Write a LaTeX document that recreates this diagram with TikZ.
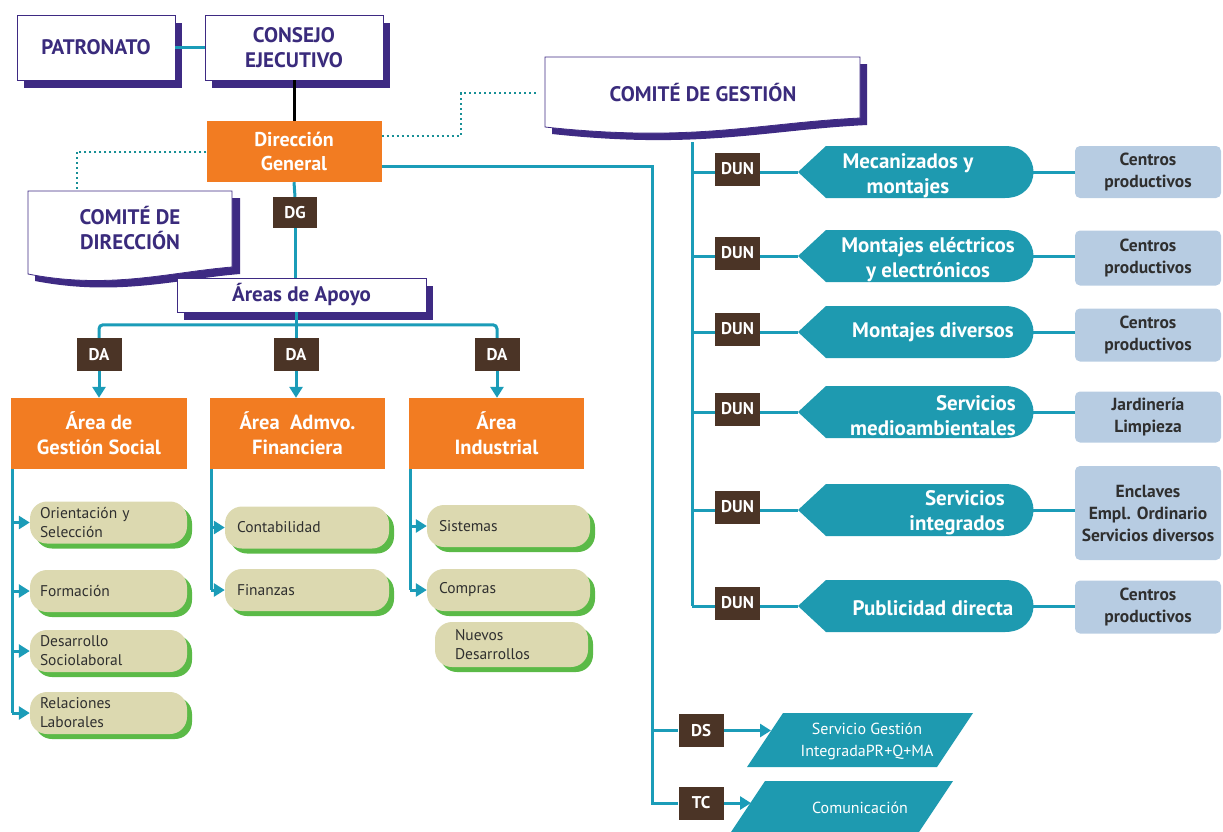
\documentclass[tikz,border=0pt]{standalone}
\usepackage{fontspec}
\setmainfont{PT Sans}
\usetikzlibrary{arrows.meta,shadows,positioning}

\definecolor{purpD}{HTML}{3E2A83}
\definecolor{purpT}{HTML}{3A2B7C}
\definecolor{tealL}{HTML}{1B9CB8}
\definecolor{tealS}{HTML}{1E9AB0}
\definecolor{dotT}{HTML}{178F96}
\definecolor{orangeA}{HTML}{F27C22}
\definecolor{brownL}{HTML}{4B3426}
\definecolor{blueB}{HTML}{B7CCE2}
\definecolor{pillT}{HTML}{DCD9B0}
\definecolor{pillG}{HTML}{5BBA47}
\definecolor{txtG}{HTML}{2F2F2F}

\tikzset{
  pbox/.style={draw=purpD, line width=0.8pt, fill=white, text=purpT, align=center,
    font=\fontsize{21}{25}\selectfont\bfseries,
    general shadow={fill=purpD, shadow xshift=7pt, shadow yshift=-8pt}},
  ctext/.style={text=purpT, align=center, font=\fontsize{21}{25}\selectfont\bfseries},
  obox/.style={fill=orangeA, text=white, align=center, font=\fontsize{20.5}{25}\selectfont\bfseries},
  tagbox/.style={fill=brownL, text=white, font=\fontsize{17}{19}\selectfont\bfseries,
    minimum width=45pt, minimum height=33pt, inner sep=0pt},
  pill/.style={fill=pillT, rounded corners=17pt, minimum height=42pt, text=txtG,
    font=\fontsize{15.5}{19}\selectfont, align=left, inner xsep=10pt, inner ysep=1pt, text width=#1,
    general shadow={fill=pillG, shadow xshift=5pt, shadow yshift=-5pt}},
  utext/.style={text=white, align=center, inner sep=0pt, font=\fontsize{21}{25}\selectfont\bfseries},
  ptext/.style={text=white, align=center, inner sep=0pt, font=\fontsize{16}{22}\selectfont},
  cbox/.style={fill=blueB, rounded corners=5pt, text=txtG, align=center, minimum width=146pt,
    inner xsep=2pt, font=\fontsize{17.5}{22}\selectfont\bfseries},
  link/.style={draw=tealL, line width=3pt},
  arr/.style={link, -{Triangle[width=13pt,length=11pt]}},
  dotline/.style={draw=dotT, line width=2pt, dash pattern=on 2pt off 3pt}
}

\begin{document}
\begin{tikzpicture}[x=1pt,y=-1pt]
\clip (0,0) rectangle (1223,831);

% top boxes
\node[pbox, minimum width=158pt, minimum height=65pt] (patr) at (96,47.5) {PATRONATO};
\node[pbox, minimum width=178pt, minimum height=65pt] (cons) at (294,47.5) {CONSEJO\\EJECUTIVO};
\node[obox, font=\fontsize{20}{24}\selectfont\bfseries, minimum width=175pt, minimum height=61pt] (dg) at (294,151.5) {Dirección\\General};
\draw[link] (patr) -- (cons);
\draw[line width=3pt] (cons) -- (dg);

% comites
\fill[purpD] (35,198) -- (240,198) -- (240,274) .. controls (178,279) and (118,297) .. (35,281) -- cycle;
\filldraw[fill=white, draw=purpD, line width=0.8pt] (28,191) -- (232,191) -- (232,267) .. controls (170,272) and (110,290) .. (28,274) -- cycle;
\node[ctext] (cdir) at (130,228) {COMITÉ DE\\DIRECCIÓN};
\fill[purpD] (552,64) -- (867,64) -- (867,125) .. controls (765,130) and (700,150) .. (552,134) -- cycle;
\filldraw[fill=white, draw=purpD, line width=0.8pt] (545,57) -- (860,57) -- (860,118) .. controls (758,123) and (693,143) .. (545,127) -- cycle;
\node[ctext] (cges) at (703,93) {COMITÉ DE GESTIÓN};
\coordinate (cdirT) at (77,191);
\coordinate (cgesL) at (537,93);
\draw[dotline] (dg.west) -| (cdirT);
\draw[dotline] ([yshift=16pt]dg.east) -| (461,93) -- (cgesL);

% areas de apoyo
\node[tagbox, minimum width=44pt, minimum height=31pt] (dglab) at (295,212.5) {DG};
\node[pbox, minimum width=249pt, minimum height=34pt] (apoyo) at (301.5,295) {Áreas de Apoyo};
\draw[link] (dg.south) -- (dglab.north);
\draw[link] (dglab.south) -- (dglab.south |- apoyo.north);

\node[tagbox] (da1) at (99,354.5) {DA};
\node[tagbox] (da2) at (296,354.5) {DA};
\node[tagbox] (da3) at (497,354.5) {DA};
\node[obox, minimum width=176pt, minimum height=71pt] (ag1) at (99,433.5) {Área de\\Gestión Social};
\node[obox, minimum width=175pt, minimum height=71pt] (ag2) at (297.5,433.5) {Área \ Admvo.\\Financiera};
\node[obox, minimum width=175pt, minimum height=71pt] (ag3) at (496.5,433.5) {Área\\Industrial};
\draw[link, rounded corners=4pt] (da1.north) -- ++(0,-13) -| (da3.north);
\draw[link] (apoyo.south -| da2.north) -- (da2.north);
\foreach \n in {1,2,3}
  \draw[arr] (da\n.south) -- (da\n.south |- ag\n.north);

% pills
\node[pill=137pt] (p11) at (108.5,522.5) {Orientación y\\Selección};
\node[pill=137pt] (p12) at (108.5,591) {Formación};
\node[pill=137pt] (p13) at (108.5,651) {Desarrollo\\Sociolaboral};
\node[pill=137pt] (p14) at (108.5,713) {Relaciones\\Laborales};
\node[pill=140pt, inner xsep=12pt] (p21) at (307,527.5) {Contabilidad};
\node[pill=140pt, inner xsep=12pt] (p22) at (307,590) {Finanzas};
\node[pill=139pt, inner xsep=12pt] (p31) at (508.5,526) {Sistemas};
\node[pill=139pt, inner xsep=12pt] (p32) at (508.5,590) {Compras};
\node[pill=113pt, inner xsep=20pt, minimum height=45pt] (p33) at (511.5,644.5) {Nuevos\\Desarrollos};
\foreach \n/\last in {1/4,2/2,3/2} {
  \coordinate (col\n) at ([xshift=1.5pt]ag\n.south west);
  \draw[link] (col\n) -- (col\n |- p\n\last.west);
}
\foreach \p in {11,12,13,14}
  \draw[arr] (col1 |- p\p.west) -- (p\p.west);
\foreach \p in {21,22}
  \draw[arr] (col2 |- p\p.west) -- (p\p.west);
\foreach \p in {31,32}
  \draw[arr] (col3 |- p\p.west) -- (p\p.west);

% business units
\coordinate (gtop) at (692,142);
\foreach \n/\y in {1/172,2/256,3/332,4/412,5/510,6/606} {
  \coordinate (row\n) at (692,\y);
  \node[tagbox] (dun\n) at (737.5,\y-3) {DUN};
  \fill[tealS] (798,\y) -- (826,\y-26) -- (1005,\y-26) .. controls (1043,\y-26) and (1043,\y+26) .. (1005,\y+26) -- (826,\y+26) -- cycle;
  \coordinate (tip\n) at (798,\y);
  \coordinate (end\n) at (1033,\y);
  \draw[link] (row\n) -- (row\n -| dun\n.west);
  \draw[link] (dun\n.east |- row\n) -- (tip\n);
}
\draw[link] (gtop) -- (row6);

\node[utext] (u1) at (908,175.5) {Mecanizados y\\montajes};
\node[utext] (u2) at (928,259.5) {Montajes eléctricos\\y electrónicos};
\node[utext] (u3) at (933,332) {Montajes diversos};
\node[utext, align=right, anchor=east] (u4) at (1016,415.5) {Servicios\\medioambientales};
\node[utext, align=right, anchor=east] (u5) at (1005,513) {Servicios\\integrados};
\node[utext] (u6) at (933,608) {Publicidad directa};

\node[cbox, minimum height=52pt] (box1) at (1148,172) {Centros\\productivos};
\node[cbox, minimum height=55pt] (box2) at (1148,258) {Centros\\productivos};
\node[cbox, minimum height=53pt] (box3) at (1148,335) {Centros\\productivos};
\node[cbox, minimum height=51pt] (box4) at (1148,417) {Jardinería\\Limpieza};
\node[cbox, minimum height=94pt] (box5) at (1148,513) {Enclaves\\Empl. Ordinario\\Servicios diversos};
\node[cbox, minimum height=53pt] (box6) at (1148,607) {Centros\\productivos};
\foreach \n in {1,...,6}
  \draw[link] (end\n) -- (end\n -| box\n.west);

% staff services
\coordinate (rb) at (652,0);
\node[tagbox] (ds) at (701,730.5) {DS};
\node[tagbox] (tc) at (701,803) {TC};
\draw[link] ([yshift=-15pt]dg.east) -| (rb |- tc.west) -- (tc.west);
\draw[link] (rb |- ds.west) -- (ds.west);
\fill[tealS] (783,713) -- (973,713) -- (937,767) -- (747,767) -- cycle;
\node[ptext] (sgi) at (867,741) {Servicio Gestión\\IntegradaPR+Q+MA};
\coordinate (sgiIn) at (771,730.5);
\draw[arr] (ds.east) -- (sgiIn);
\fill[tealS] (765,781) -- (953,781) -- (917,835) -- (729,835) -- cycle;
\node[ptext] (com) at (860,808) {Comunicación};
\coordinate (comIn) at (751,803);
\draw[arr] (tc.east) -- (comIn);
\end{tikzpicture}
\end{document}
